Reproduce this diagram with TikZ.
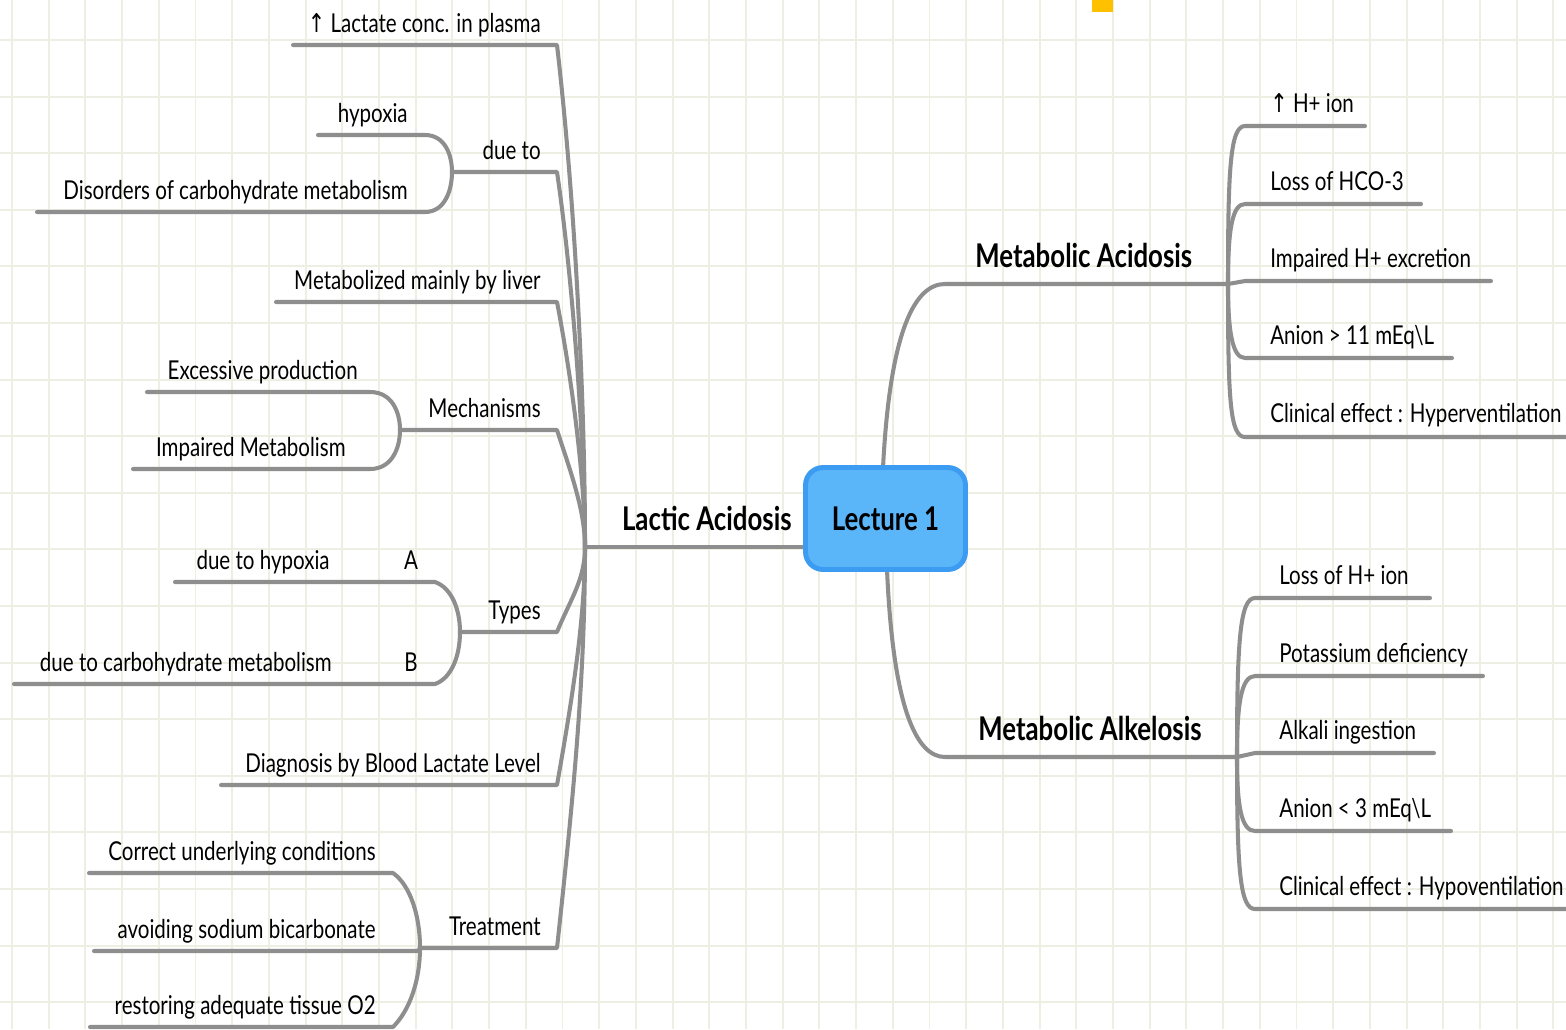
\documentclass[tikz,border=0pt]{standalone}
\usepackage{fontspec}
\setmainfont{Lato}[FakeStretch=0.79]
\newfontfamily\arrowfont{DejaVu Sans}[FakeStretch=0.8]
\usetikzlibrary{calc,positioning}

\definecolor{gridcol}{HTML}{EEEFE3}
\definecolor{branch}{HTML}{8E8E8E}
\definecolor{rootfill}{HTML}{5AB5F9}
\definecolor{rootline}{HTML}{3C9CF1}
\definecolor{marker}{HTML}{FFC000}

\newcommand{\up}{{\arrowfont\char"2191}}

\begin{document}
\begin{tikzpicture}[x=0.02cm, y=-0.02cm,
    gridline/.style={draw=gridcol, line width=1.1pt},
    conn/.style={draw=branch, line width=2.3pt, line cap=round, line join=round},
    leaf/.style={inner sep=0pt, font=\fontsize{14.8}{17}\selectfont},
    topic/.style={inner sep=0pt, font=\fontsize{18.6}{22}\selectfont\bfseries},
    rootbox/.style={draw=rootline, fill=rootfill, line width=2.8pt, rounded corners=10pt,
        minimum width=3.2cm, minimum height=2.04cm, font=\fontsize{18.6}{22}\selectfont\bfseries}]
    \useasboundingbox (0,0) rectangle (1566,1029);
    \clip (0,0) rectangle (1566,1029);
    \fill[white] (0,0) rectangle (1566,1029);

    % grid paper
    \foreach \i in {0,...,42}
        \draw[gridline] ({12+36.7*\i},0) -- ++(0,1029);
    \foreach \j in {0,...,17}
        \draw[gridline] (0,{40+56.6*\j}) -- ++(1566,0);
    \fill[marker] (1092,0) rectangle (1113,12);

    % branch points
    \coordinate (rootw) at (803,547);
    \coordinate (roottop) at (883,468);
    \coordinate (rootbot) at (887,569);
    \coordinate (lacbr) at (585,547);
    \coordinate (acidbr) at (1228,284);
    \coordinate (alkbr) at (1237,757);
    \coordinate (duebr) at (452,172);
    \coordinate (mechbr) at (400,430);
    \coordinate (typebr) at (460,632);
    \coordinate (treatbr) at (420,948);

    % lactic acidosis side
    \draw[conn] (rootw) -- (lacbr);
    \draw[conn] (lacbr) .. controls (585,400) and (575,200) .. (557,45) -- (293,45);
    \draw[conn] (lacbr) .. controls (585,450) and (573,280) .. (557,172) -- (duebr);
    \draw[conn] (lacbr) .. controls (585,480) and (572,380) .. (557,302) -- (276,302);
    \draw[conn] (lacbr) .. controls (585,510) and (570,470) .. (557,430) -- (mechbr);
    \draw[conn] (lacbr) .. controls (585,580) and (570,600) .. (557,632) -- (typebr);
    \draw[conn] (lacbr) .. controls (585,620) and (572,700) .. (557,785) -- (221,785);
    \draw[conn] (lacbr) .. controls (585,680) and (573,800) .. (557,948) -- (treatbr);

    \draw[conn] (duebr) .. controls (452,155) and (445,135) .. (425,135) -- (318,135);
    \draw[conn] (duebr) .. controls (452,190) and (445,212) .. (425,212) -- (37,212);
    \draw[conn] (mechbr) .. controls (400,412) and (392,392) .. (370,392) -- (147,392);
    \draw[conn] (mechbr) .. controls (400,448) and (392,469) .. (370,469) -- (133,469);
    \draw[conn] (typebr) .. controls (460,610) and (452,588) .. (435,582) -- (175,582);
    \draw[conn] (typebr) .. controls (460,655) and (452,678) .. (435,684) -- (14,684);
    \draw[conn] (treatbr) .. controls (420,915) and (410,885) .. (393,873) -- (89,873);
    \draw[conn] (treatbr) -- (418,951) -- (94,951);
    \draw[conn] (treatbr) .. controls (420,980) and (410,1010) .. (393,1027) -- (90,1027);

    % metabolic acidosis / alkelosis side
    \draw[conn] (roottop) .. controls (890,330) and (915,284) .. (945,284) -- (acidbr);
    \draw[conn] (rootbot) .. controls (893,710) and (917,757) .. (945,757) -- (alkbr);

    \draw[conn] (acidbr) .. controls (1228,170) and (1230,126) .. (1245,126) -- (1365,126);
    \draw[conn] (acidbr) .. controls (1228,230) and (1232,204) .. (1245,204) -- (1421,204);
    \draw[conn] (acidbr) -- (1245,281) -- (1491,281);
    \draw[conn] (acidbr) .. controls (1228,330) and (1232,358) .. (1245,358) -- (1452,358);
    \draw[conn] (acidbr) .. controls (1228,400) and (1230,437) .. (1245,437) -- (1600,437);

    \draw[conn] (alkbr) .. controls (1237,640) and (1240,598) .. (1255,598) -- (1430,598);
    \draw[conn] (alkbr) .. controls (1237,705) and (1241,676) .. (1255,676) -- (1483,676);
    \draw[conn] (alkbr) -- (1255,753) -- (1434,753);
    \draw[conn] (alkbr) .. controls (1237,805) and (1241,831) .. (1255,831) -- (1451,831);
    \draw[conn] (alkbr) .. controls (1237,870) and (1240,909) .. (1255,909) -- (1600,909);

    % centre
    \node[rootbox] (root) at (885.5,518.5) {Lecture 1};

    % titles
    \node[topic, anchor=base east] (lactic) at (792,530) {Lactic Acidosis};
    \node[topic, anchor=base west] (metacid) at (975,267) {Metabolic Acidosis};
    \node[topic, anchor=base west] (metalk) at (978,740) {Metabolic Alkelosis};

    % left leaves
    \node[leaf, anchor=base east] (lactate) at (541,32) {\up{} Lactate conc. in plasma};
    \node[leaf, anchor=base east] (dueto) at (541,159) {due to};
    \node[leaf, anchor=base east] (hypoxia) at (408,122) {hypoxia};
    \node[leaf, anchor=base east] (disorders) at (408,199) {Disorders of carbohydrate metabolism};
    \node[leaf, anchor=base east] (liver) at (541,289) {Metabolized mainly by liver};
    \node[leaf, anchor=base east] (mech) at (541,417) {Mechanisms};
    \node[leaf, anchor=base east] (excess) at (358,379) {Excessive production};
    \node[leaf, anchor=base east] (impmet) at (346,456) {Impaired Metabolism};
    \node[leaf, anchor=base east] (types) at (541,619) {Types};
    \node[leaf, anchor=base east] (typea) at (330,569) {due to hypoxia};
    \node[leaf, anchor=base] (marka) at (411,569) {A};
    \node[leaf, anchor=base east] (typeb) at (332,671) {due to carbohydrate metabolism};
    \node[leaf, anchor=base] (markb) at (411,671) {B};
    \node[leaf, anchor=base east] (diag) at (541,772) {Diagnosis by Blood Lactate Level};
    \node[leaf, anchor=base east] (treat) at (541,935) {Treatment};
    \node[leaf, anchor=base east] (correct) at (376,860) {Correct underlying conditions};
    \node[leaf, anchor=base east] (avoid) at (376,938) {avoiding sodium bicarbonate};
    \node[leaf, anchor=base east] (restore) at (376,1014) {restoring adequate tissue O2};

    % right leaves
    \node[leaf, anchor=base west] (hion) at (1270,112) {\up{} H+ ion};
    \node[leaf, anchor=base west] (hco) at (1270,190) {Loss of HCO-3};
    \node[leaf, anchor=base west] (excr) at (1270,267) {Impaired H+ excretion};
    \node[leaf, anchor=base west] (aniona) at (1270,344) {Anion > 11 mEq\textbackslash L};
    \node[leaf, anchor=base west] (hyper) at (1270,422) {Clinical effect : Hyperventilation};

    \node[leaf, anchor=base west] (lossh) at (1279,584) {Loss of H+ ion};
    \node[leaf, anchor=base west] (potas) at (1279,662) {Potassium deficiency};
    \node[leaf, anchor=base west] (alkali) at (1279,739) {Alkali ingestion};
    \node[leaf, anchor=base west] (anionb) at (1279,817) {Anion < 3 mEq\textbackslash L};
    \node[leaf, anchor=base west] (hypo) at (1279,895) {Clinical effect : Hypoventilation};
\end{tikzpicture}
\end{document}
